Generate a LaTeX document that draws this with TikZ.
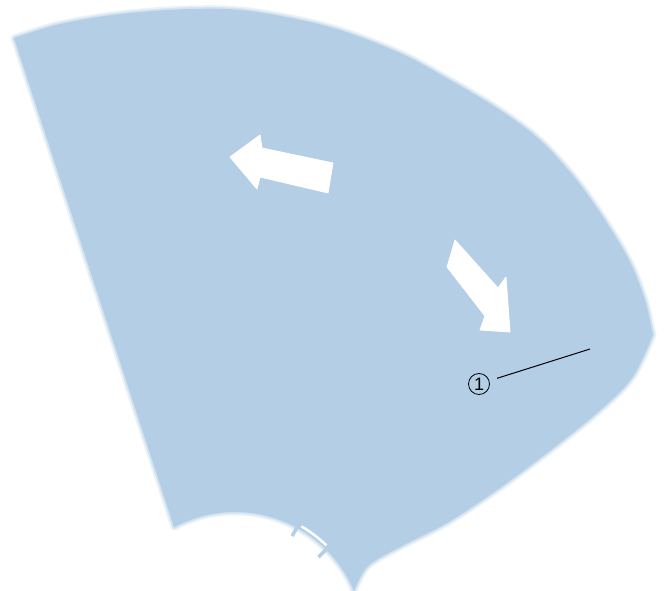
\documentclass[tikz,border=0pt]{standalone}
\usepackage{fontspec}
\setmainfont{Liberation Sans}
\usetikzlibrary{calc}
\definecolor{fan}{RGB}{180,207,229}
\begin{document}
\begin{tikzpicture}[x=1pt,y=-1pt,
  fanfill/.style={fill=fan},
  fanhalo/.style={draw=fan,line join=round},
  whitearrow/.style={fill=white,draw=white,line width=0.8,line join=round},
  callout/.style={circle,draw=black,line width=0.8,inner sep=0pt,minimum size=21pt,font=\fontsize{18}{18}\selectfont},
  leader/.style={draw=black,line width=1}]
\useasboundingbox (0,0) rectangle (664,591);
\coordinate (C) at (234,641);
\newcommand\fanoutline{plot[smooth,tension=0.55] coordinates {(14,38) (60,24) (120,14) (190,9) (250,11) (330,27) (400,53) (450,80) (500,110) (540,140) (575,178) (605,220) (630,262) (645,300) (653,335)}
  -- plot[smooth,tension=0.55] coordinates {(653,335) (632,378) (597,413) (547,453) (497,490) (447,523) (400,547) (368,566) (354,591)}
  arc[start angle=-22.8,end angle=-118.2,radius=129] -- cycle}
% soft halo
\path[fanhalo,line width=7,draw opacity=0.25] \fanoutline;
\path[fanhalo,line width=3.5,draw opacity=0.45] \fanoutline;
\path[fanfill] \fanoutline;
% white arrows
\path[whitearrow] (230,157) -- (260,135) -- (262,148) -- (333,163) -- (328,193) -- (260,177) -- (257,189) -- cycle;
\path[whitearrow] (455,240) -- (447,267) -- (485,316) -- (480,330) -- (510,332) -- (506,277) -- (498,288) -- cycle;
% bracket on the inner arc
\draw[white,line width=2.5] ($(C)+(-59.5:133)$) arc[start angle=-59.5,end angle=-46,radius=133];
\draw[fan,line width=3.5] ($(C)+(-61:131)$) -- ($(C)+(-61:120)$);
\draw[fan,line width=3.5] ($(C)+(-44.8:131)$) -- ($(C)+(-44.8:119)$);
% callout
\node[callout] (n1) at (479,384) {1};
\coordinate (p1) at (590,349);
\draw[leader,shorten <=8pt] (n1) -- (p1);
\end{tikzpicture}
\end{document}
